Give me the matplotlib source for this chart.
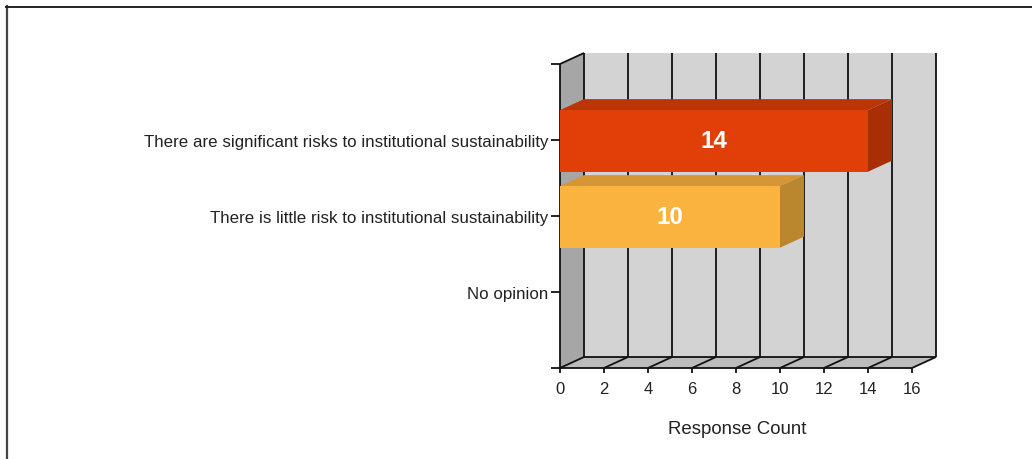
import matplotlib
matplotlib.use('Agg')
import matplotlib.pyplot as plt
from matplotlib.patches import Polygon

plt.rcParams['font.family'] = ['Liberation Sans', 'DejaVu Sans']

# Data
categories = ['There are significant risks to institutional sustainability',
              'There is little risk to institutional sustainability',
              'No opinion']
counts = [14, 10, 0]
x_ticks = [0, 2, 4, 6, 8, 10, 12, 14, 16]
x_title = 'Response Count'

bar_colors = ['#e04008', '#fbb33f', '#cccccc']
top_colors = ['#bb3506', '#d69635', '#aaaaaa']
side_colors = ['#a82f05', '#ba872f', '#999999']

W, H = 1032, 460
fig = plt.figure(figsize=(W / 100, H / 100), dpi=100)

# front plane of the fake 3d box, in pixels
left, right, top, bottom = 560, 912, 65, 369
ax = fig.add_axes([left / W, 1 - bottom / H, (right - left) / W, (bottom - top) / H])
ax.set_xlim(0, 16)
ax.set_ylim(4, 0)
ax.patch.set_visible(False)
for s in ax.spines.values():
    s.set_visible(False)

# depth offset in data units
dx = 24 / 22
dy = -11 / 76
wall_top = dy

def poly(pts, color, z=2):
    ax.add_patch(Polygon(pts, closed=True, facecolor=color, edgecolor=color,
                         linewidth=0, clip_on=False, zorder=z))

# walls and floor
poly([(dx, wall_top), (16 + dx, wall_top), (16 + dx, 4 + dy), (dx, 4 + dy)], '#d3d3d3', 1)
poly([(0, 0), (dx, wall_top), (dx, 4 + dy), (0, 4)], '#a6a6a6', 1)
poly([(0, 4), (16, 4), (16 + dx, 4 + dy), (dx, 4 + dy)], '#bcbcbc', 1)

line = dict(color='#111111', lw=1.3, clip_on=False, zorder=1.5, solid_capstyle='butt')
for t in x_ticks:
    ax.plot([t + dx, t + dx], [wall_top, 4 + dy], **line)
    ax.plot([t, t + dx], [4, 4 + dy], **line)
ax.plot([dx, 16 + dx], [4 + dy, 4 + dy], **line)
ax.plot([0, 16], [4, 4], **line)
ax.plot([0, 0], [0, 4], **line)
ax.plot([0, dx], [0, wall_top], **line)

# bars
bar_h = 0.81
bar_shift = 0.012
for i, v in enumerate(counts):
    if v == 0:
        continue
    y = i + 1 + bar_shift
    y0, y1 = y - bar_h / 2, y + bar_h / 2
    poly([(0, y0), (v, y0), (v + dx, y0 + dy), (dx, y0 + dy)], top_colors[i], 3)
    poly([(v, y0), (v + dx, y0 + dy), (v + dx, y1 + dy), (v, y1)], side_colors[i], 3)
    poly([(0, y0), (v, y0), (v, y1), (0, y1)], bar_colors[i], 4)
    ax.text(v / 2, y, str(v), color='white', ha='center', va='center',
            fontsize=17.5, fontweight='bold', zorder=5)

ax.set_xticks(x_ticks)
ax.set_xticklabels([str(t) for t in x_ticks], fontsize=12, color='#222222')
ax.tick_params(axis='x', length=3.6, width=1.3, pad=6, color='#111111')

ax.set_yticks([0, 1, 2, 3, 4])
ax.set_yticklabels([''] + categories + [''], fontsize=12.2, color='#222222')
ax.tick_params(axis='y', length=6.5, width=1.3, pad=2, color='#111111')

fig.text(737 / W, 1 - 430 / H, x_title, ha='center', va='center', fontsize=13.4, color='#222222')

# picture frame, left and top only
fig.add_artist(plt.Line2D([7 / W, 7 / W], [0, 1 - 7 / H], color='#444444', lw=1.6,
                          transform=fig.transFigure))
fig.add_artist(plt.Line2D([6 / W, 1], [1 - 7.5 / H, 1 - 7.5 / H], color='#222222', lw=1.4,
                          transform=fig.transFigure))

fig.savefig('out.png', dpi=100)
